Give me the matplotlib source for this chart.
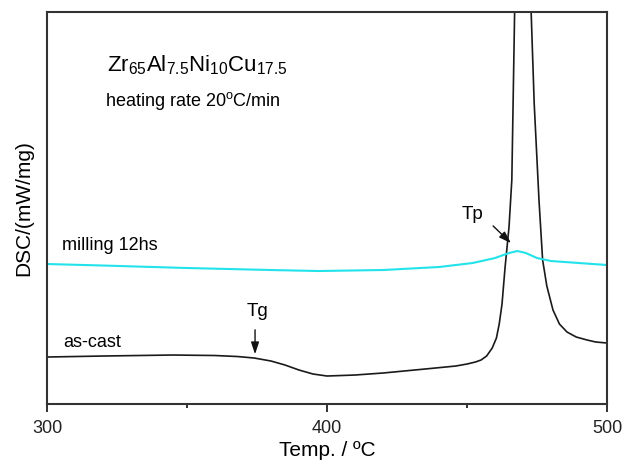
import matplotlib
matplotlib.use("Agg")
import matplotlib.pyplot as plt

plt.rcParams['font.family'] = ['Liberation Sans', 'DejaVu Sans']
plt.rcParams['mathtext.fontset'] = 'custom'
plt.rcParams['mathtext.rm'] = 'Liberation Sans'
plt.rcParams['mathtext.it'] = 'Liberation Sans'
plt.rcParams['mathtext.default'] = 'regular'

# Temperature (°C) and DSC signal (arbitrary units, no y ticks)
temp_cast = [300, 320, 345, 360, 368, 374, 380, 385, 390, 395, 400, 410, 420,
             435, 446, 450, 453, 455, 457, 459, 460.5, 461.5, 462.5, 463.6,
             465, 466, 467, 470, 472.9, 474, 475.7, 477, 478.5, 480.7, 483,
             485.7, 489, 492.9, 496, 500]
dsc_cast = [47, 48, 49, 48.5, 47.5, 46, 43, 39, 34, 30, 28, 29, 31,
            35, 38, 40, 42, 44, 48, 56, 66, 80, 100, 137,
            177, 224, 392, 700, 392, 300, 204, 144, 118, 94, 80,
            72, 67, 64, 62, 61]

temp_mill = [300, 320, 350, 380, 397, 420, 440, 452, 460, 465, 468, 471, 475,
             480, 490, 500]
dsc_mill = [140, 138.5, 136, 134, 133, 134, 137, 141, 146, 151, 153, 151, 146,
            143, 141, 139]

x_ticks = [300, 400, 500]
x_minor = [350, 450]

fig = plt.figure(figsize=(6.24, 4.62), dpi=100)
ax = fig.add_axes([0.0753, 0.1255, 0.8975, 0.8485])

ax.plot(temp_cast, dsc_cast, color='#1a1a1a', lw=1.2)
ax.plot(temp_mill, dsc_mill, color='#22e2ea', lw=1.5)

ax.set_xlim(300, 500)
ax.set_ylim(0, 392)
ax.set_xticks(x_ticks)
ax.set_xticks(x_minor, minor=True)
ax.set_yticks([])
ax.tick_params(axis='x', which='major', direction='out', length=5.5, width=1.3,
               labelsize=13, colors='#222222', pad=6)
ax.tick_params(axis='x', which='minor', direction='out', length=3, width=1.3,
               colors='#222222')
for s in ax.spines.values():
    s.set_linewidth(1.5)
    s.set_color('#333333')

ax.set_xlabel('Temp. / ºC', fontsize=15, labelpad=3)
ax.set_ylabel('DSC/(mW/mg)', fontsize=15, labelpad=10)

ax.text(321.4, 339, r'Zr$_{65}$Al$_{7.5}$Ni$_{10}$Cu$_{17.5}$', fontsize=16,
        ha='left', va='center')
ax.text(320.7, 303, r'heating rate 20$^{o}$C/min', fontsize=13,
        ha='left', va='center')
ax.text(305.4, 159, 'milling 12hs', fontsize=13, ha='left', va='center')
ax.text(305.7, 62, 'as-cast', fontsize=13, ha='left', va='center')

ax.annotate('', xy=(374.3, 47), xytext=(374.3, 77),
            arrowprops=dict(arrowstyle='-|>,head_width=0.2,head_length=0.6',
                            color='#111111', lw=1, mutation_scale=12))
ax.text(375, 93, 'Tg', fontsize=13.5, ha='center', va='center')

ax.annotate('', xy=(466.4, 159), xytext=(458.6, 180),
            arrowprops=dict(arrowstyle='-|>,head_width=0.2,head_length=0.6',
                            color='#111111', lw=1, mutation_scale=12))
ax.text(452.1, 190, 'Tp', fontsize=13.5, ha='center', va='center')

fig.savefig('out.png', dpi=100)
